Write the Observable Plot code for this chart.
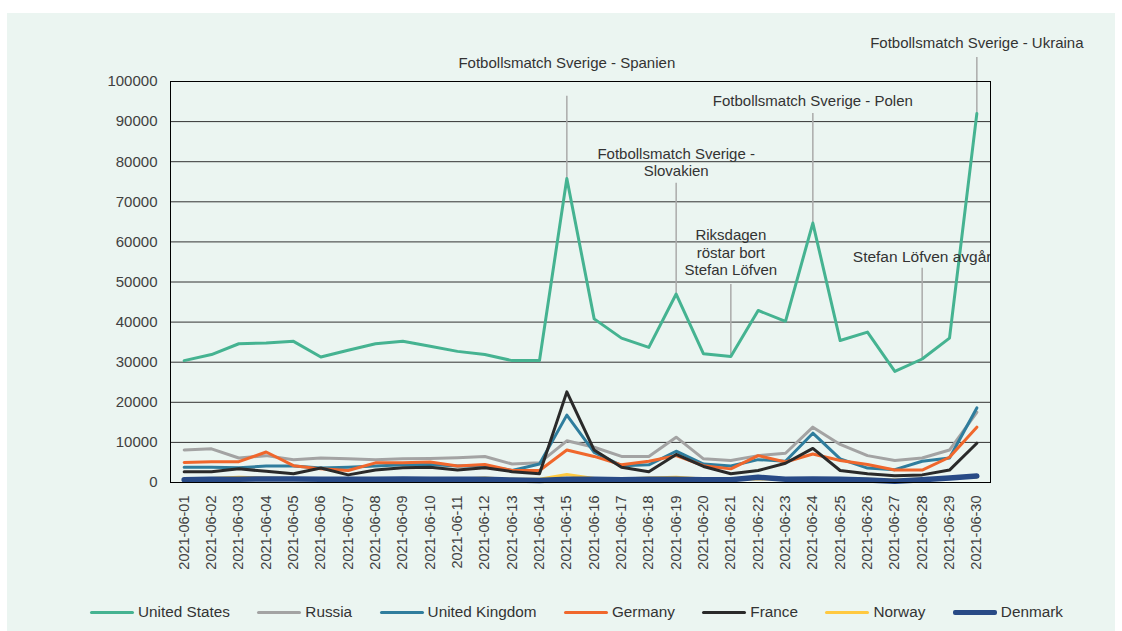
<!DOCTYPE html>
<html><head><meta charset="utf-8">
<script src="https://cdn.jsdelivr.net/npm/d3@7"></script>
<script src="https://cdn.jsdelivr.net/npm/@observablehq/plot@0.6"></script>
<style>
body{margin:0;background:#fff;font-family:Arial,"Liberation Sans",sans-serif;}
#panel{position:absolute;left:7px;top:13px;width:1108px;height:618px;background:#EBF5F1;}
#chart{position:absolute;left:0;top:0;}
#legend{position:absolute;left:90px;top:602px;display:flex;align-items:center;font-size:15.3px;color:#333;height:20px;}
.item{display:flex;align-items:center;margin-right:27.5px;}
.sw{width:44px;height:3px;margin-right:4px;border-radius:2px;}
</style></head><body>
<div id="panel"></div><div id="chart"></div><div id="legend"></div>
<script>
const dates = ["2021-06-01","2021-06-02","2021-06-03","2021-06-04","2021-06-05","2021-06-06","2021-06-07","2021-06-08","2021-06-09","2021-06-10","2021-06-11","2021-06-12","2021-06-13","2021-06-14","2021-06-15","2021-06-16","2021-06-17","2021-06-18","2021-06-19","2021-06-20","2021-06-21","2021-06-22","2021-06-23","2021-06-24","2021-06-25","2021-06-26","2021-06-27","2021-06-28","2021-06-29","2021-06-30"];
const unitedStates = [30400,31900,34600,34800,35200,31300,33000,34600,35200,34000,32700,31900,30400,30400,75800,40800,36000,33700,47000,32100,31400,42900,40200,64700,35400,37500,27700,30800,36000,92000];
const russia = [8100,8400,6100,6700,5700,6100,5900,5700,5900,6000,6200,6500,4600,4900,10400,8800,6500,6500,11300,5900,5500,6700,7300,13800,9500,6700,5500,6100,8100,17500];
const unitedKingdom = [3800,3800,3700,4100,4100,3600,3800,4100,4400,4500,4100,4100,3000,4600,16800,7500,4200,4400,7800,4600,4100,5700,5300,12300,5900,3600,3200,5300,6100,18600];
const germany = [5000,5200,5200,7600,4200,3400,3000,4900,4900,5100,4100,4500,3000,3000,8100,6500,4400,5300,6700,4200,3400,6700,5100,7100,5500,4500,3100,3100,6300,13800];
const france = [2700,2700,3400,2800,2200,3600,1900,3100,3700,3800,3100,3700,2700,2200,22600,8100,3800,2700,7000,4000,2200,3000,4800,8500,3000,2200,1700,1900,3100,9800];
const norway = [900,1000,1300,1100,1000,900,900,1000,1000,900,900,1100,800,800,2000,1000,900,1100,1300,900,800,900,900,1000,900,800,600,900,1100,1400];
const denmark = [700,800,800,900,900,800,800,800,900,800,800,800,600,500,800,800,700,800,800,700,700,1300,800,900,800,600,300,700,1100,1600];

const seriesNames = ["United States","Russia","United Kingdom","Germany","France","Norway","Denmark"];
const seriesValues = [unitedStates,russia,unitedKingdom,germany,france,norway,denmark];
const seriesColors = ["#45B391","#A3A3A3","#2F7D9D","#F0672C","#2A2A2A","#FFC940","#284A86"];
const seriesWidths = [3,3,3,3,3,3,5.5];

const yTicks = [0,10000,20000,30000,40000,50000,60000,70000,80000,90000,100000];

const annDates = ["2021-06-15","2021-06-19","2021-06-21","2021-06-24","2021-06-28","2021-06-30"];
const annLabels = ["Fotbollsmatch Sverige - Spanien","Fotbollsmatch Sverige -\nSlovakien","Riksdagen\nröstar bort\nStefan Löfven","Fotbollsmatch Sverige - Polen","Stefan Löfven avgår","Fotbollsmatch Sverige - Ukraina"];
const annLabelY = [104700,79900,57400,95300,56400,109700];
const annLineTop = [96300,74600,49400,92000,53400,106000];

const annotations = annDates.map((d,i)=>({date:d,label:annLabels[i],labelY:annLabelY[i],lineTop:annLineTop[i],value:unitedStates[dates.indexOf(d)],clip:d==="2021-06-28"}));

const lineMarks = seriesNames.map((name,i)=>Plot.line(dates.map((d,j)=>({date:d,value:seriesValues[i][j]})),{x:"date",y:"value",stroke:seriesColors[i],strokeWidth:seriesWidths[i],strokeLinejoin:"round",strokeLinecap:"round"}));

const font = 'Arial, "Liberation Sans", sans-serif';
const chart = Plot.plot({
  width:1122, height:580,
  marginLeft:170, marginRight:132, marginTop:81, marginBottom:98,
  style:{background:"transparent",fontFamily:font,fontSize:"15px",color:"#404040"},
  x:{type:"point",domain:dates,padding:0.5,round:false,label:null},
  y:{domain:[0,100000],label:null},
  marks:[
    Plot.gridY(yTicks,{stroke:"#333",strokeOpacity:1,strokeWidth:1}),
    Plot.axisY(yTicks,{tickSize:0,tickPadding:13,tickFormat:d3.format("d"),fontSize:15,fill:"#404040",label:null}),
    Plot.axisX({tickSize:0,tickPadding:13,tickRotate:-90,fontSize:14.5,fill:"#404040",label:null}),
    Plot.ruleX(annotations,{x:"date",y1:"lineTop",y2:"value",stroke:"#AAAAAA",strokeWidth:1.5}),
    ...lineMarks,
    Plot.frame({stroke:"#000",strokeWidth:1}),
    Plot.text(annotations.filter(a=>!a.clip),{x:"date",y:"labelY",text:"label",fontSize:15,fill:"#333",lineHeight:1.17}),
    Plot.text(annotations.filter(a=>a.clip),{x:"date",y:"labelY",text:"label",fontSize:15.5,fill:"#333",lineHeight:1.17,clip:"frame"})
  ]
});
document.getElementById("chart").appendChild(chart);

const legend = document.getElementById("legend");
seriesNames.forEach((name,i)=>{
  const it=document.createElement("div");it.className="item";
  const sw=document.createElement("div");sw.className="sw";sw.style.background=seriesColors[i];sw.style.height=(i===6?5:3)+"px";
  const tx=document.createElement("span");tx.textContent=name;
  it.appendChild(sw);it.appendChild(tx);legend.appendChild(it);
});
</script>
</body></html>
